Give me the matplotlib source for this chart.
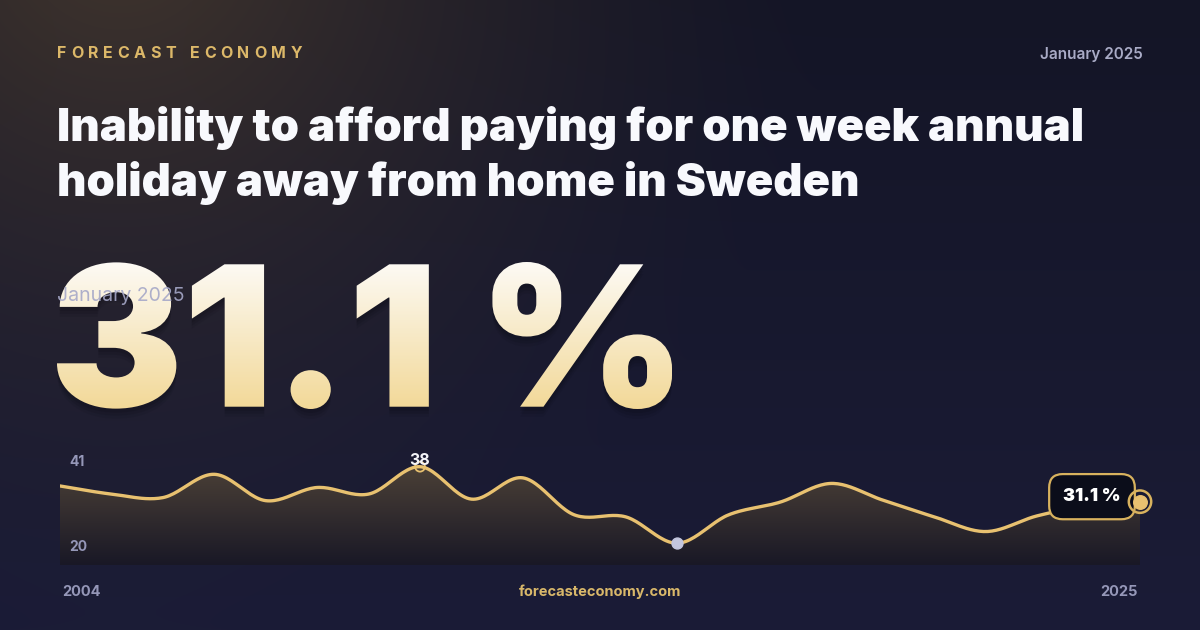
import numpy as np
import matplotlib
matplotlib.use('Agg')
import matplotlib.pyplot as plt
from matplotlib import font_manager as fm
from matplotlib.colors import to_rgb
from matplotlib.font_manager import FontProperties
from matplotlib.patches import PathPatch, Polygon
from matplotlib.path import Path
from matplotlib.textpath import TextPath, TextToPath

W, H, DPI = 1200, 630, 100

# data (annual, %)
years = list(range(2004, 2026))
values = [34.2, 32.6, 31.9, 36.5, 31.3, 33.9, 32.6, 38.0, 31.6, 35.8, 28.5,
          28.1, 22.9, 28.5, 31.0, 34.7, 31.4, 28.1, 25.2, 28.3, 30.3, 31.1]
y_top_label = 41
y_bottom_label = 20

brand = 'FORECAST ECONOMY'
period = 'January 2025'
title_lines = ['Inability to afford paying for one week annual',
               'holiday away from home in Sweden']
big_value = '31.1 %'
site = 'forecasteconomy.com'

GOLD = '#e8c170'
GREY = '#9597b8'
SANS = ['Inter', 'DejaVu Sans']


def weight_of(e):
    w = e.weight
    if isinstance(w, str):
        w = fm.weight_dict.get(w, 400)
    return int(w)


def pick_font(families, target):
    # closest installed weight to target, in order of family preference
    for fam in families:
        cands = [e for e in fm.fontManager.ttflist
                 if e.name == fam and e.style == 'normal']
        if cands:
            best = min(cands, key=lambda e: (abs(weight_of(e) - target), -weight_of(e)))
            return FontProperties(fname=best.fname)
    return FontProperties(family='DejaVu Sans', weight='bold')


def catmull_rom(x, y, n=24):
    # smooth path through the points, for drawing only
    x = np.asarray(x, float)
    y = np.asarray(y, float)
    px = np.r_[2 * x[0] - x[1], x, 2 * x[-1] - x[-2]]
    py = np.r_[2 * y[0] - y[1], y, 2 * y[-1] - y[-2]]
    t = np.linspace(0, 1, n, endpoint=False)
    out_x, out_y = [], []
    for i in range(1, len(px) - 2):
        for p, out in ((px, out_x), (py, out_y)):
            p0, p1, p2, p3 = p[i - 1], p[i], p[i + 1], p[i + 2]
            out.append(0.5 * (2 * p1 + (-p0 + p2) * t
                              + (2 * p0 - 5 * p1 + 4 * p2 - p3) * t ** 2
                              + (-p0 + 3 * p1 - 3 * p2 + p3) * t ** 3))
    return np.r_[np.concatenate(out_x), x[-1]], np.r_[np.concatenate(out_y), y[-1]]


fp_title = pick_font(['Inter', 'Roboto', 'Lato'], 850)
fp_big = pick_font(['Inter', 'Roboto', 'Lato'], 950)

fig = plt.figure(figsize=(W / DPI, H / DPI), dpi=DPI)

# background canvas in pixel coordinates
bg = fig.add_axes([0, 0, 1, 1])
bg.set_xlim(0, W)
bg.set_ylim(H, 0)
bg.axis('off')

yy, xx = np.mgrid[0:H, 0:W]
f = (yy / H)[..., None]
img = np.array(to_rgb('#141526')) * (1 - f) + np.array(to_rgb('#1b1c37')) * f
glow = (np.clip(1 - np.hypot(xx - 120, yy + 80) / 720, 0, 1) ** 1.5)[..., None]
img = img * (1 - glow * 0.85) + np.array(to_rgb('#4a3c2f')) * glow * 0.85
bg.imshow(img, extent=[0, W, H, 0], aspect='auto', zorder=0)

# header with letter spacing
tt = TextToPath()
fp_brand = FontProperties(family=SANS, weight='bold', size=11.5)
widths = []
for ch in brand:
    if ch == ' ':
        widths.append(fp_brand.get_size_in_points() * 0.28 * DPI / 72)
    else:
        w, _, _ = tt.get_text_width_height_descent(ch, fp_brand, ismath=False)
        widths.append(w * DPI / 72)
track = (302 - 57 - sum(widths)) / (len(brand) - 1)
x = 57
for ch, w in zip(brand, widths):
    bg.text(x, 53, ch, fontproperties=fp_brand, color='#dcb869',
            ha='left', va='center', zorder=3)
    x += w + track

bg.text(1143, 55, period, fontsize=11, fontweight='semibold', family=SANS,
        color='#a9abc6', ha='right', va='center', zorder=3)

fp_title.set_size(31.5)
title_texts = [bg.text(57, 141 + i * 55, line, fontproperties=fp_title,
                       color='#f8f9fd', ha='left', va='baseline', zorder=3)
               for i, line in enumerate(title_lines)]

# scale title so the first line spans the same width as the reference
fig.canvas.draw()
r = fig.canvas.get_renderer()
scale = (1085 - 57) / title_texts[0].get_window_extent(r).width
for t in title_texts:
    t.set_fontsize(31.5 * scale)

# big number with vertical gradient
tp = TextPath((0, 0), big_value, size=100, prop=fp_big)
bb = tp.get_extents()
v = tp.vertices.copy()
v[:, 0] = 57 + (v[:, 0] - bb.x0) * (672 - 57) / bb.width
v[:, 1] = 409 - (v[:, 1] - bb.y0) * (409 - 262) / bb.height
for k, a in ((10, 0.08), (7, 0.1), (4, 0.12)):
    bg.add_patch(PathPatch(Path(v + [0, k], tp.codes), fc='#05060d', ec='none',
                           alpha=a, zorder=1))
clip = PathPatch(Path(v, tp.codes), fc='none', ec='none', zorder=2)
bg.add_patch(clip)
grad = np.linspace(0, 1, 200)[:, None, None]
gimg = np.array(to_rgb('#fdfbf7')) * (1 - grad) + np.array(to_rgb('#f2d896')) * grad
gimg = np.repeat(gimg, 2, axis=1)
im = bg.imshow(gimg, extent=[50, 680, 412, 258], aspect='auto', zorder=2)
im.set_clip_path(clip)

bg.text(57, 296, period, fontsize=14, family=SANS, color='#a6a8c8',
        ha='left', va='center', alpha=0.9, zorder=4)

# footer
bg.text(62, 592, str(years[0]), fontsize=10.5, fontweight='bold', family=SANS,
        color=GREY, ha='left', va='center')
bg.text(1138, 592, str(years[-1]), fontsize=10.5, fontweight='bold', family=SANS,
        color=GREY, ha='right', va='center')
bg.text(600, 592, site, fontsize=10.5, fontweight='bold', family=SANS,
        color='#d9b86a', ha='center', va='center')

# chart
y_low = 18.6
ax = fig.add_axes([60 / W, (H - 565) / H, 1080 / W, (565 - 451.5) / H])
ax.axis('off')
ax.patch.set_alpha(0)

sx, sy = catmull_rom(years, values)
poly = Polygon(np.c_[np.r_[sx, sx[-1], sx[0]], np.r_[sy, y_low, y_low]],
               closed=True, fc='none', ec='none')
ax.add_patch(poly)
g = np.linspace(0, 1, 200)[:, None, None]
fimg = np.array(to_rgb('#4c4137')) * (1 - g) + np.array(to_rgb('#191826')) * g
fimg = np.repeat(fimg, 2, axis=1)
fim = ax.imshow(fimg, extent=[years[0], years[-1], y_low, max(values) + 0.5],
                aspect='auto', zorder=1)
fim.set_clip_path(poly)

ax.plot(sx, sy, color=GOLD, lw=2.4, solid_capstyle='round', zorder=3)
ax.set_xlim(years[0], years[-1])
ax.set_ylim(y_low, y_top_label)

ax.text(0.009, 0.905, str(y_top_label), transform=ax.transAxes, fontsize=10,
        fontweight='bold', family=SANS, color=GREY, va='center', zorder=4)
ax.text(0.009, 0.16, str(y_bottom_label), transform=ax.transAxes, fontsize=10,
        fontweight='bold', family=SANS, color=GREY, va='center', zorder=4)

i_max = int(np.argmax(values))
i_min = int(np.argmin(values))
ax.scatter(years[i_max], values[i_max], s=50, facecolor='none', edgecolor=GOLD,
           lw=1.3, zorder=5, clip_on=False)
ax.annotate(f'{values[i_max]:g}', (years[i_max], values[i_max]),
            xytext=(0, 6), textcoords='offset pixels', ha='center', va='center',
            fontsize=11.5, fontweight='bold', family=SANS, color='#f4f4f8',
            zorder=6, annotation_clip=False)
ax.scatter(years[i_min], values[i_min], s=62, color='#c3c6de', zorder=5,
           clip_on=False)

fp_box = fp_big.copy()
fp_box.set_size(13)
ax.annotate(big_value, (years[-1], values[-1]), xytext=(-48, 5),
            textcoords='offset pixels', ha='center', va='center',
            fontproperties=fp_box, color='white',
            bbox=dict(boxstyle='round,pad=0.78,rounding_size=0.75',
                      fc='#0b0d1a', ec='#d8b25e', lw=1.6),
            zorder=6, annotation_clip=False)
ax.scatter(years[-1], values[-1], s=260, facecolor='none', edgecolor='#d8b25e',
           lw=1.8, zorder=7, clip_on=False)
ax.scatter(years[-1], values[-1], s=95, color=GOLD, zorder=8, clip_on=False)

fig.savefig('out.png', dpi=DPI)
